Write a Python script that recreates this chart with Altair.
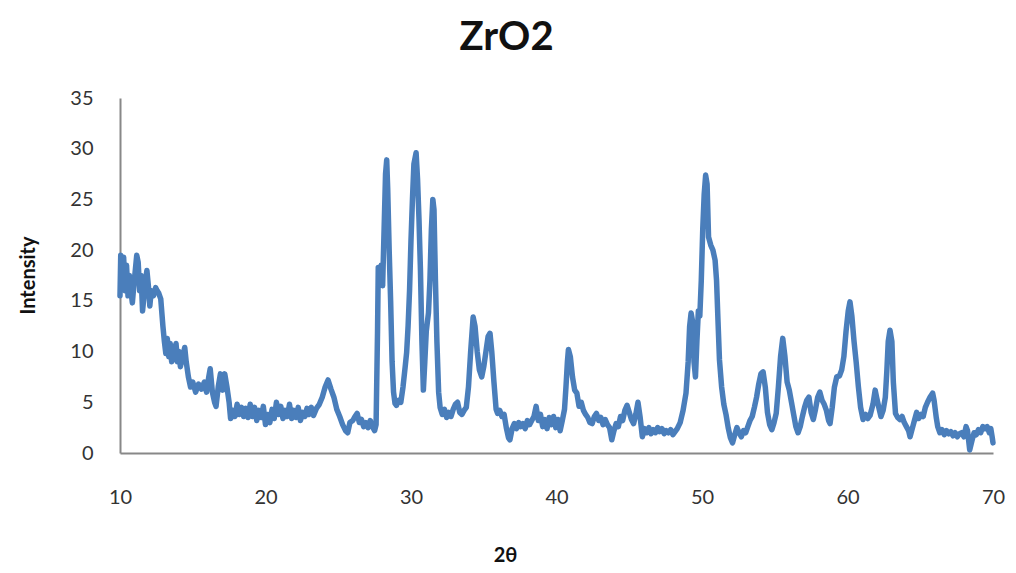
import altair as alt
import pandas as pd

two_theta = [
    10.0, 10.05, 10.15, 10.25, 10.35, 10.45, 10.55, 10.65, 10.75, 10.85, 10.95, 11.05, 11.15, 11.25, 11.35,
    11.45, 11.55, 11.65, 11.75, 11.85, 11.95, 12.05, 12.15, 12.3, 12.45, 12.55, 12.65, 12.8, 12.95, 13.05,
    13.15, 13.25, 13.35, 13.45, 13.55, 13.65, 13.75, 13.85, 13.95, 14.05, 14.15, 14.3, 14.45, 14.55, 14.7,
    14.85, 15.0, 15.2, 15.4, 15.6, 15.8, 15.95, 16.1, 16.2, 16.35, 16.5, 16.6, 16.75, 16.9, 17.05,
    17.2, 17.35, 17.5, 17.6, 17.75, 17.9, 18.05, 18.2, 18.35, 18.5, 18.65, 18.8, 18.95, 19.1, 19.25,
    19.4, 19.55, 19.7, 19.85, 20.0, 20.15, 20.3, 20.45, 20.6, 20.75, 20.9, 21.05, 21.2, 21.35, 21.5,
    21.65, 21.8, 21.95, 22.1, 22.25, 22.4, 22.55, 22.7, 22.85, 23.0, 23.15, 23.3, 23.5, 23.7, 23.9,
    24.1, 24.3, 24.5, 24.7, 24.9, 25.1, 25.3, 25.5, 25.65, 25.8, 26.0, 26.15, 26.3, 26.45, 26.6,
    26.75, 26.9, 27.05, 27.2, 27.35, 27.5, 27.6, 27.7, 27.75, 27.85, 27.95, 28.05, 28.15, 28.25, 28.33,
    28.4, 28.5, 28.6, 28.7, 28.8, 28.9, 29.0, 29.15, 29.3, 29.45, 29.6, 29.7, 29.8, 29.9, 30.0,
    30.1, 30.2, 30.35, 30.45, 30.55, 30.65, 30.75, 30.85, 30.95, 31.05, 31.2, 31.3, 31.4, 31.5, 31.58,
    31.68, 31.78, 31.9, 32.0, 32.15, 32.3, 32.45, 32.6, 32.75, 32.9, 33.05, 33.2, 33.35, 33.5, 33.65,
    33.8, 33.95, 34.1, 34.27, 34.4, 34.55, 34.7, 34.86, 35.0, 35.15, 35.3, 35.43, 35.55, 35.7, 35.85,
    35.95, 36.1, 36.25, 36.4, 36.55, 36.7, 36.8, 36.95, 37.1, 37.25, 37.4, 37.55, 37.7, 37.85, 38.0,
    38.15, 38.3, 38.45, 38.6, 38.75, 38.9, 39.05, 39.2, 39.35, 39.5, 39.65, 39.8, 39.95, 40.1, 40.25,
    40.4, 40.55, 40.65, 40.75, 40.82, 40.95, 41.1, 41.25, 41.4, 41.55, 41.7, 41.85, 42.0, 42.15, 42.3,
    42.45, 42.6, 42.75, 42.9, 43.05, 43.2, 43.35, 43.5, 43.65, 43.8, 43.95, 44.1, 44.25, 44.4, 44.55,
    44.7, 44.85, 45.0, 45.15, 45.3, 45.45, 45.6, 45.75, 45.9, 46.05, 46.2, 46.35, 46.5, 46.65, 46.8,
    46.95, 47.1, 47.25, 47.4, 47.55, 47.7, 47.85, 48.0, 48.15, 48.3, 48.5, 48.7, 48.9, 49.05, 49.15,
    49.25, 49.35, 49.45, 49.55, 49.65, 49.75, 49.85, 49.95, 50.05, 50.15, 50.25, 50.35, 50.45, 50.6, 50.75,
    50.9, 51.0, 51.1, 51.2, 51.35, 51.5, 51.65, 51.8, 51.95, 52.1, 52.25, 52.4, 52.55, 52.7, 52.85,
    53.0, 53.15, 53.3, 53.45, 53.6, 53.75, 53.9, 54.05, 54.2, 54.35, 54.5, 54.65, 54.8, 54.95, 55.1,
    55.25, 55.4, 55.55, 55.7, 55.85, 56.0, 56.15, 56.3, 56.45, 56.6, 56.75, 56.9, 57.05, 57.2, 57.35,
    57.5, 57.65, 57.8, 57.95, 58.1, 58.25, 58.4, 58.55, 58.7, 58.8, 58.95, 59.1, 59.26, 59.45, 59.6,
    59.75, 59.9, 60.05, 60.17, 60.3, 60.45, 60.6, 60.75, 60.9, 61.07, 61.25, 61.4, 61.55, 61.75, 61.9,
    62.0, 62.15, 62.3, 62.45, 62.6, 62.7, 62.8, 62.92, 63.05, 63.15, 63.3, 63.45, 63.6, 63.75, 63.9,
    64.05, 64.2, 64.3, 64.45, 64.6, 64.75, 64.9, 65.05, 65.2, 65.35, 65.5, 65.67, 65.85, 65.95, 66.1,
    66.2, 66.35, 66.5, 66.65, 66.8, 66.95, 67.1, 67.25, 67.4, 67.55, 67.7, 67.85, 68.0, 68.15, 68.25,
    68.4, 68.55, 68.7, 68.85, 69.0, 69.15, 69.3, 69.45, 69.6, 69.75, 69.85, 69.95, 70.0,
]

intensity = [
    15.5, 19.5, 17, 19.3, 16, 18.5, 15.5, 17.5, 16, 14.8, 16.5, 18, 19.5, 18.8, 16,
    17.5, 14, 15.5, 17, 18, 16.5, 14.5, 16, 15.5, 16.3, 16, 15.8, 15.2, 12.5, 11,
    9.8, 11.3, 9.5, 10.8, 9, 10.5, 9.2, 10.8, 9, 10, 8.5, 9.5, 10.4, 9, 7.5,
    6.5, 7, 6, 6.8, 6.3, 7, 6, 7.5, 8.3, 6, 5, 4.6, 6.5, 7.8, 6.2,
    7.8, 6.5, 5, 3.4, 4.2, 3.6, 4.8, 3.8, 4.5, 3.6, 4.4, 3.5, 4.8, 3.6, 4.5,
    3.2, 4.2, 3.5, 4.6, 2.8, 3.8, 3.0, 4.3, 3.4, 5, 3.8, 4.6, 3.4, 4.2, 3.6,
    4.8, 3.4, 4.2, 3.5, 4.5, 3.2, 4, 3.6, 4.4, 3.8, 4.5, 3.7, 4.4, 4.8, 5.5,
    6.5, 7.2, 6.3, 5.5, 4.3, 3.6, 2.8, 2.2, 2.0, 3.0, 3.2, 3.6, 3.9, 3.0, 3.3,
    2.6, 3.0, 2.5, 3.2, 2.6, 2.2, 2.8, 12, 18.3, 17.5, 18.5, 16.5, 22, 27.5, 28.9,
    26, 20, 15, 9, 6, 4.9, 4.7, 5.2, 5.0, 6.5, 8.5, 9.9, 12.5, 16, 21,
    25, 28.5, 29.6, 27, 23, 18, 11, 6.2, 9, 12, 13.8, 17, 22, 25, 24,
    17, 11, 6, 4.5, 3.8, 4.3, 3.5, 4.0, 3.6, 4.3, 4.8, 5.0, 4.0, 3.8, 4.2,
    4.5, 6.5, 10, 13.4, 12.5, 10, 8.2, 7.5, 8.5, 10, 11.5, 11.8, 10, 7, 4.3,
    3.9, 4.2, 3.6, 3.8, 2.5, 1.5, 1.3, 2.4, 2.9, 2.4, 3.0, 2.6, 2.9, 2.4, 3.2,
    2.8, 3.2, 3.6, 4.6, 3.2, 3.8, 2.6, 3.3, 2.4, 3.5, 2.8, 3.6, 2.5, 3.3, 2.2,
    3.2, 4.3, 6.5, 9, 10.2, 9.5, 7.5, 6.2, 5.9, 4.6, 5.0, 4.2, 3.8, 3.5, 3.0,
    2.9, 3.6, 3.9, 3.2, 3.5, 2.8, 3.3, 2.8, 2.5, 1.3, 2.2, 2.9, 2.6, 3.6, 3.2,
    4.2, 4.7, 4.0, 3.3, 2.9, 3.8, 5.0, 3.5, 1.6, 2.4, 2.0, 2.5, 1.9, 2.3, 2.0,
    2.5, 2.1, 2.4, 1.9, 2.2, 2.0, 2.3, 1.8, 2.1, 2.4, 3.0, 4.2, 5.9, 9, 12.5,
    13.8, 13, 9, 7.5, 11, 14, 13.5, 17, 22, 25.5, 27.4, 26.5, 21.3, 20.5, 20,
    19, 17, 13, 9.2, 6.5, 4.8, 3.8, 2.5, 1.5, 1.0, 1.8, 2.5, 2.0, 1.6, 2.2,
    2.0, 2.6, 3.2, 3.6, 4.5, 5.5, 6.8, 7.8, 8.0, 6.5, 4, 2.8, 2.3, 3.0, 3.9,
    6.5, 9.5, 11.3, 9.5, 7, 6.2, 5.0, 3.8, 2.6, 2.0, 2.6, 3.6, 4.5, 5.2, 5.5,
    4.0, 3.3, 4.3, 5.5, 6.0, 5.2, 4.8, 4.2, 3.2, 2.9, 4.5, 6.5, 7.5, 7.6, 8.2,
    9.5, 12, 14, 14.9, 13.5, 11, 8.9, 6.5, 4.5, 3.3, 3.8, 3.4, 3.7, 4.8, 6.2,
    5.5, 4.5, 3.6, 4.2, 5.5, 8, 11, 12.1, 11, 7, 3.9, 3.5, 3.3, 3.6, 3.0,
    2.6, 2.2, 1.6, 2.4, 3.2, 4.0, 3.4, 3.8, 3.6, 4.5, 5.0, 5.5, 5.9, 5.2, 3.5,
    2.6, 2.0, 2.3, 1.8, 2.2, 1.9, 2.1, 1.7, 2.0, 1.6, 1.9, 2.0, 1.6, 2.6, 2.2,
    0.3, 1.2, 2.0, 1.8, 2.3, 2.0, 2.6, 2.4, 2.6, 2.0, 2.4, 1.5, 1.0,
]

x_ticks = [10, 20, 30, 40, 50, 60, 70]
y_ticks = [0, 5, 10, 15, 20, 25, 30, 35]

df = pd.DataFrame({"two_theta": two_theta, "intensity": intensity})

FONT = "Lato"
AXIS_GRAY = "#888888"
LABEL_COLOR = "#333333"

chart = (
    alt.Chart(df)
    .mark_line(color="#4a7ebb", strokeWidth=5.5, strokeJoin="round", strokeCap="round")
    .encode(
        x=alt.X(
            "two_theta:Q",
            scale=alt.Scale(domain=[10, 70], nice=False, zero=False),
            axis=alt.Axis(
                values=x_ticks,
                title="2θ",
                grid=False,
                ticks=False,
                labelFlush=False,
                labelPadding=34,
                labelFont=FONT,
                labelFontSize=20,
                labelColor=LABEL_COLOR,
                domainColor=AXIS_GRAY,
                domainWidth=2,
                titleFont=FONT,
                titleFontSize=20,
                titleFontWeight="bold",
                titleColor="#111111",
                titleX=385,
                titleY=92,
                titleBaseline="top",
            ),
        ),
        y=alt.Y(
            "intensity:Q",
            scale=alt.Scale(domain=[0, 35], nice=False),
            axis=alt.Axis(
                values=y_ticks,
                title="Intensity",
                grid=False,
                ticks=False,
                labelFlush=False,
                labelPadding=27,
                labelFont=FONT,
                labelFontSize=20,
                labelColor=LABEL_COLOR,
                domainColor=AXIS_GRAY,
                domainWidth=2,
                titleFont=FONT,
                titleFontSize=20,
                titleFontWeight="bold",
                titleColor="#111111",
                titleX=-92,
                titleY=177,
                titleAlign="center",
                titleBaseline="middle",
                titleAngle=270,
            ),
        ),
    )
    .properties(
        width=873,
        height=355,
        title=alt.TitleParams(
            "ZrO2",
            font=FONT,
            fontSize=40,
            fontWeight="bold",
            color="#111111",
            dx=-50,
            offset=30,
        ),
        autosize=alt.AutoSizeParams(type="none"),
        padding={"left": 120, "top": 98, "right": 23, "bottom": 120},
    )
    .configure_view(stroke=None)
)

chart.save("out.html", embed_options={"renderer": "svg", "actions": False})
